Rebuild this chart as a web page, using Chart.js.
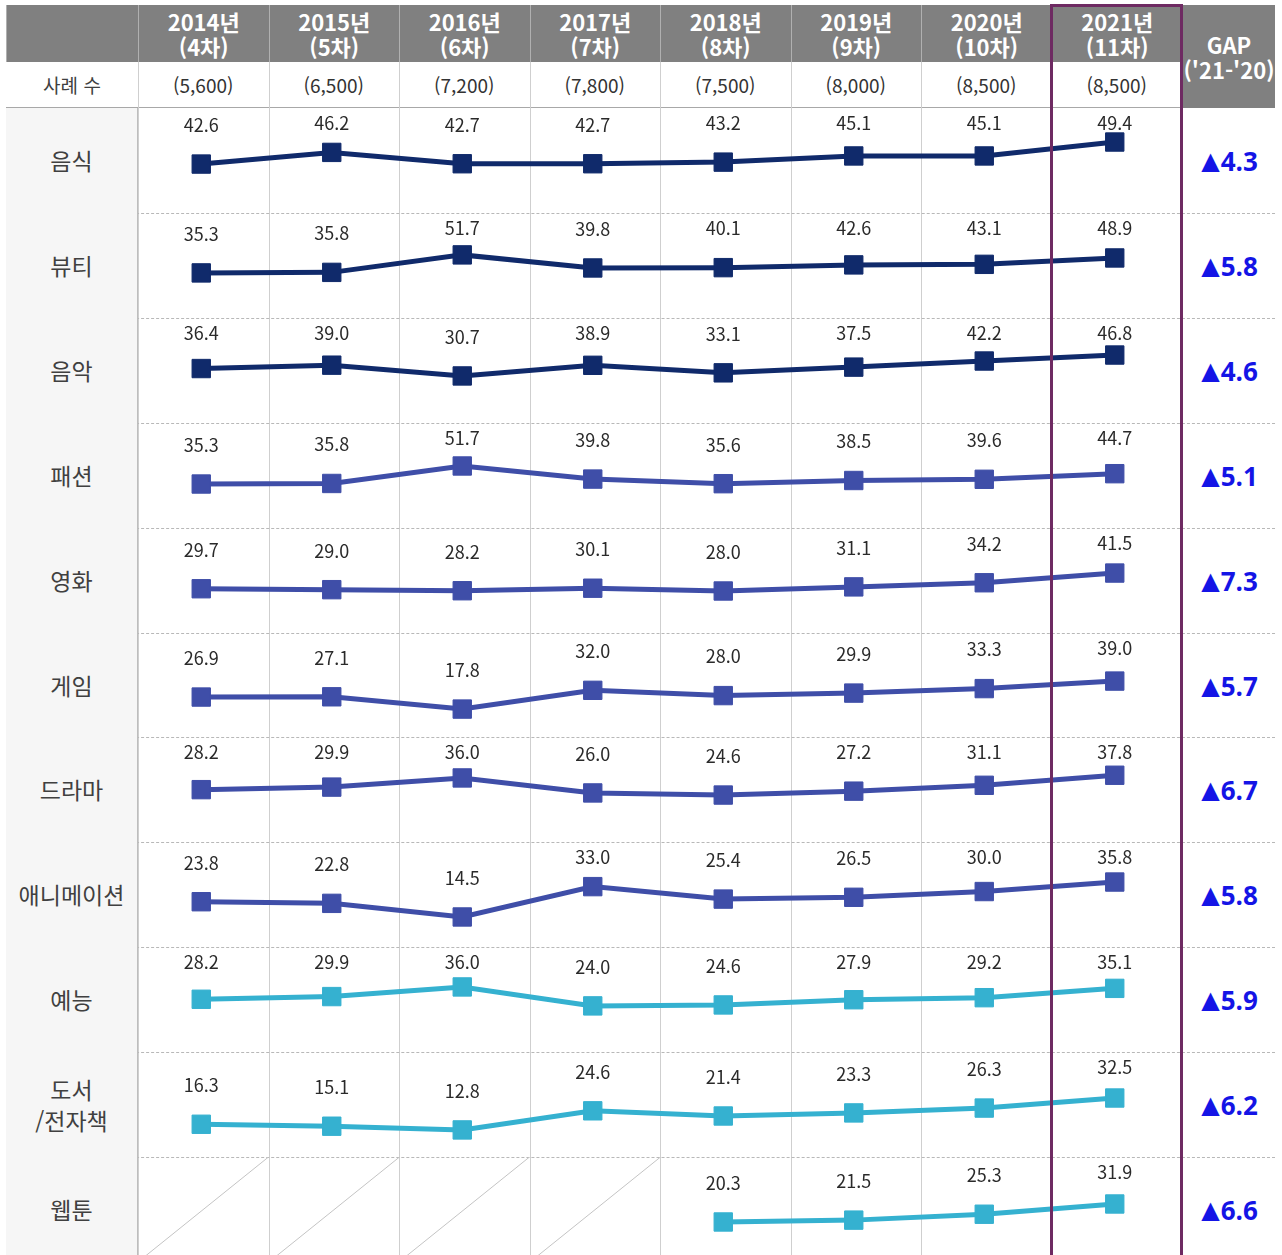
<!DOCTYPE html>
<html lang="ko">
<head>
<meta charset="UTF-8">
<title>콘텐츠 분야별 추이</title>
<script src="https://cdn.jsdelivr.net/npm/chart.js@4"></script>
<style>
    body { margin: 0; width: 1282px; height: 1255px; overflow: hidden; background: #fff; position: relative;
           font-family: "Noto Sans CJK KR", "Noto Sans", sans-serif; }
    .abs { position: absolute; box-sizing: border-box; }
    .hdr { background: #808080; color: #fff; font-weight: bold; font-size: 22px; line-height: 25px;
           text-align: center; display: flex; flex-direction: column; justify-content: center;
           border-left: 1px solid #b0b0b0; }
    .cnt { font-size: 19px; color: #333; text-align: center; line-height: 46px; }
    .lbl { background: #f6f6f6; color: #404040; font-size: 23px; line-height: 31px; text-align: center;
           display: flex; flex-direction: column; justify-content: center; border-right: 1px solid #bdbdbd; }
    .vline { width: 1px; background: #cfcfcf; }
    .dash { height: 0; border-top: 1px dashed #b8b8b8; }
    .gap { color: #1414e6; font-weight: bold; font-size: 26px; font-family: "Open Sans", "Noto Sans", sans-serif;
           text-align: center; display: flex; align-items: center; justify-content: center; padding-left: 2px; }
    .gap span { font-family: "DejaVu Sans", sans-serif; font-size: 24px; margin-right: 1px; }
    canvas { position: absolute; z-index: 2; }
    #focus { border: 3px solid #6e2a62; z-index: 5; }
</style>
</head>
<body>
<script>
    // 조사 연도 / 차수 / 사례 수
    const years = ['2014년', '2015년', '2016년', '2017년', '2018년', '2019년', '2020년', '2021년'];
    const waves = ['(4차)', '(5차)', '(6차)', '(7차)', '(8차)', '(9차)', '(10차)', '(11차)'];
    const sampleSizes = ['(5,600)', '(6,500)', '(7,200)', '(7,800)', '(7,500)', '(8,000)', '(8,500)', '(8,500)'];

    // 분야
    const categories = ['음식', '뷰티', '음악', '패션', '영화', '게임', '드라마', '애니메이션', '예능', '도서\n/전자책', '웹툰'];

    // 분야별 값
    const food      = [42.6, 46.2, 42.7, 42.7, 43.2, 45.1, 45.1, 49.4];
    const beauty    = [35.3, 35.8, 51.7, 39.8, 40.1, 42.6, 43.1, 48.9];
    const music     = [36.4, 39.0, 30.7, 38.9, 33.1, 37.5, 42.2, 46.8];
    const fashion   = [35.3, 35.8, 51.7, 39.8, 35.6, 38.5, 39.6, 44.7];
    const movie     = [29.7, 29.0, 28.2, 30.1, 28.0, 31.1, 34.2, 41.5];
    const game      = [26.9, 27.1, 17.8, 32.0, 28.0, 29.9, 33.3, 39.0];
    const drama     = [28.2, 29.9, 36.0, 26.0, 24.6, 27.2, 31.1, 37.8];
    const animation = [23.8, 22.8, 14.5, 33.0, 25.4, 26.5, 30.0, 35.8];
    const variety   = [28.2, 29.9, 36.0, 24.0, 24.6, 27.9, 29.2, 35.1];
    const books     = [16.3, 15.1, 12.8, 24.6, 21.4, 23.3, 26.3, 32.5];
    const webtoon   = [null, null, null, null, 20.3, 21.5, 25.3, 31.9];
    const series = [food, beauty, music, fashion, movie, game, drama, animation, variety, books, webtoon];

    // GAP ('21-'20)
    const gaps = [4.3, 5.8, 4.6, 5.1, 7.3, 5.7, 6.7, 5.8, 5.9, 6.2, 6.6];

    // 행별 y축 범위 (원본 차트마다 축이 다름)
    const yMin = [27.5, -5.7, -5.5, -4.7, -3.6, -4.1, -6.7, -3.8, -5.2, -3.9, -5.5];
    const yMax = [59.9, 89.8, 75.3, 90.8, 75.4, 75.4, 63.3, 60.2, 61.3, 60.9, 62.2];

    const lineColors = ['#102a6b', '#102a6b', '#102a6b',
                        '#3f4ea8', '#3f4ea8', '#3f4ea8', '#3f4ea8', '#3f4ea8',
                        '#35b1d0', '#35b1d0', '#35b1d0'];

    // 레이아웃
    const left = 6, labelW = 132, colW = 130.5, plotX = left + labelW;
    const gapX = plotX + colW * 8, gapW = 1275 - gapX;
    const headTop = 5, headH = 57, cntH = 46, rowTop0 = headTop + headH + cntH, rowH = 105;
    const rowTop = r => Math.round(rowTop0 + r * 104.9);

    function box(cls, x, y, w, h, html) {
        const d = document.createElement('div');
        d.className = 'abs ' + cls;
        d.style.left = x + 'px'; d.style.top = y + 'px';
        if (w != null) d.style.width = w + 'px';
        if (h != null) d.style.height = h + 'px';
        if (html != null) d.innerHTML = html;
        document.body.appendChild(d);
        return d;
    }

    // 헤더
    box('hdr', left, headTop, labelW, headH, '');
    years.forEach((y, i) => box('hdr', plotX + i * colW, headTop, colW, headH, `<div>${y}</div><div>${waves[i]}</div>`));
    box('hdr', gapX, headTop, gapW, headH + cntH, `<div>GAP</div><div style="white-space:nowrap">('21-'20)</div>`);

    // 사례 수
    box('cnt', left, headTop + headH, labelW, cntH, '사례 수').style.color = '#404040';
    sampleSizes.forEach((s, i) => box('cnt', plotX + i * colW, headTop + headH, colW, cntH, s));
    box('', left, rowTop0 - 1, gapX - left, 1, '').style.background = '#a8a8a8';

    // 세로 구분선
    for (let i = 1; i < 8; i++) box('vline', plotX + i * colW, headTop + headH, 1, 1255, '');
    box('vline', plotX, headTop + headH, 1, 1255, '');

    // 행 라벨, 점선, GAP
    categories.forEach((c, r) => {
        const top = rowTop(r);
        box('lbl', left, top, labelW, rowH, c.split('\n').map(t => `<div>${t}</div>`).join(''));
        box('dash', left, rowTop(r + 1), 1275 - left, null, '');
        box('gap', gapX, top, gapW, rowH, '<span>▲</span>' + gaps[r].toFixed(1));
    });

    // 웹툰 빈 칸 대각선
    webtoon.forEach((v, i) => {
        if (v != null) return;
        box('', plotX + i * colW, rowTop(10), colW, rowH,
            `<svg width="${colW}" height="${rowH}"><line x1="0" y1="${rowH}" x2="${colW}" y2="0" stroke="#c4c4c4" stroke-width="1"/></svg>`);
    });

    // 2021년 강조 테두리
    const focus = box('', plotX + 7 * colW - 2, headTop - 1, colW + 3, 1270, '');
    focus.id = 'focus';

    // 값 라벨
    const valueLabels = {
        id: 'valueLabels',
        afterDatasetsDraw(chart) {
            const ctx = chart.ctx;
            const values = chart.data.datasets[0].data;
            ctx.save();
            ctx.font = '18px "Noto Sans CJK KR"';
            ctx.fillStyle = '#2a2a2a';
            ctx.textAlign = 'center';
            ctx.textBaseline = 'middle';
            chart.getDatasetMeta(0).data.forEach((pt, i) => {
                if (values[i] == null) return;
                const y = Math.max(pt.y - 39, chart.chartArea.top + 15);
                ctx.fillText(values[i].toFixed(1), pt.x, y);
            });
            ctx.restore();
        }
    };

    // 행별 차트
    series.forEach((data, r) => {
        const cv = document.createElement('canvas');
        cv.width = Math.round(colW * 8);
        cv.height = rowH;
        cv.style.left = (plotX - 2) + 'px';
        cv.style.top = rowTop(r) + 'px';
        document.body.appendChild(cv);

        new Chart(cv, {
            type: 'line',
            data: {
                labels: years,
                datasets: [{
                    data: data,
                    borderColor: lineColors[r],
                    backgroundColor: lineColors[r],
                    borderWidth: 5,
                    pointStyle: 'rect',
                    pointRadius: 13,
                    pointBorderWidth: 1,
                    tension: 0,
                    spanGaps: false,
                    clip: false
                }]
            },
            options: {
                responsive: false,
                animation: false,
                layout: { padding: 0, autoPadding: false },
                scales: {
                    x: { type: 'category', offset: true, display: false },
                    y: { min: yMin[r], max: yMax[r], display: false }
                },
                plugins: { legend: { display: false }, tooltip: { enabled: false } }
            },
            plugins: [valueLabels]
        });
    });
</script>
</body>
</html>
